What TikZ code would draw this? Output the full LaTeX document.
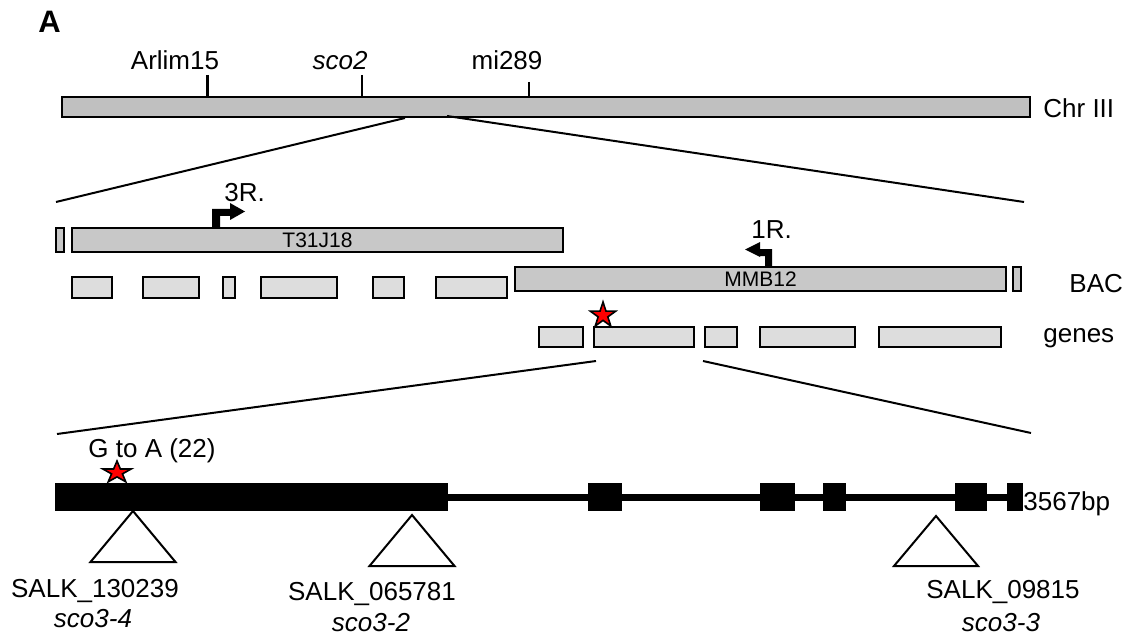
\documentclass[tikz,border=0pt]{standalone}
\usepackage{fontspec}
\setmainfont{Liberation Sans}
\usetikzlibrary{shapes.geometric}
\definecolor{chrgray}{RGB}{192,192,192}
\definecolor{bacgray}{RGB}{200,200,200}
\definecolor{genegray}{RGB}{221,221,221}
\tikzset{
  rbox/.style={draw=black, line width=1pt, inner sep=0pt, outer sep=0pt, anchor=north west},
  chrbox/.style={rbox, fill=chrgray},
  bacbox/.style={rbox, fill=bacgray},
  genebox/.style={rbox, fill=genegray},
  exonbox/.style={fill=black, draw=none, inner sep=0pt, outer sep=0pt, anchor=north west},
  lbl/.style={font=\fontsize{13}{15}\selectfont, inner sep=0pt},
  smalllbl/.style={font=\fontsize{10.5}{12}\selectfont, inner sep=0pt},
  zoomline/.style={line width=1pt},
  mutstar/.style={star, star points=5, star point ratio=2.618, draw=black, fill=red, line width=0.8pt, inner sep=0pt},
  insert/.style={draw=black, line width=1pt, fill=white, line join=miter},
  promoter/.style={fill=black, draw=none}
}
\newcommand\rb[6]{\node[#1, minimum width={(#5-#3)*0.5pt}, minimum height={(#6-#4)*0.5pt}] (#2) at (#3,#4) {};}
\begin{document}
\begin{tikzpicture}[x=0.5pt, y=-0.5pt]
\fill[white] (0,0) rectangle (1128,636);
\useasboundingbox (0,0) rectangle (1128,636);

% panel letter
\node[font=\fontsize{15.5}{17}\selectfont\bfseries, inner sep=0pt, anchor=base west] (lblA) at (38,33) {A};

% chromosome
\rb{chrbox}{chr}{62}{97}{1030}{117}
\node[lbl, anchor=base west] (chrlbl) at (1043,118) {Chr III};
\coordinate (tk1) at (207,75);
\coordinate (tk2) at (362,75);
\coordinate (tk3) at (529,82);
\draw[line width=1.5pt] (tk1) -- (207,97);
\draw[line width=0.8pt] (tk2) -- (362,97);
\draw[line width=1pt] (tk3) -- (529,97);
\node[lbl, anchor=base] (m1) at (175,70) {Arlim15};
\node[lbl, anchor=base] (m2) at (340,70) {\itshape sco2};
\node[lbl, anchor=base] (m3) at (507,70) {mi289};

% zoom lines 1
\coordinate (z1a) at (405,118);
\coordinate (z1b) at (56,202);
\coordinate (z2a) at (447,116);
\coordinate (z2b) at (1024,202);
\draw[zoomline] (z1a) -- (z1b);
\draw[zoomline] (z2a) -- (z2b);

% BAC row
\rb{bacbox}{b0}{56}{228}{64}{252}
\rb{bacbox}{t31}{72}{228}{563}{252}
\node[smalllbl] (t31lbl) at (t31.center) {T31J18};
\rb{bacbox}{mmb}{515}{267}{1006}{291}
\node[smalllbl] (mmblbl) at (mmb.center) {MMB12};
\rb{bacbox}{b9}{1013}{267}{1021}{291}
\node[lbl, anchor=base west] (baclbl) at (1069,292) {BAC};

% promoter arrows
\fill[promoter] (212,228) -- (212,209) -- (230,209) -- (230,203) -- (245,211.5) -- (230,220) -- (230,216) -- (220,216) -- (220,228) -- cycle;
\node[lbl, anchor=base west] (r3) at (224,202) {3R.};
\fill[promoter] (772,267) -- (772,249) -- (760,249) -- (760,242) -- (745,249.5) -- (760,257) -- (760,256) -- (765,256) -- (765,267) -- cycle;
\node[lbl, anchor=base west] (r1) at (751,238) {1R.};

% second row boxes
\rb{genebox}{a1}{72}{277}{112}{298}
\rb{genebox}{a2}{143}{277}{199}{298}
\rb{genebox}{a3}{223}{277}{235}{298}
\rb{genebox}{a4}{261}{277}{337}{298}
\rb{genebox}{a5}{373}{277}{404}{298}
\rb{genebox}{a6}{436}{277}{507}{298}

% genes row
\rb{genebox}{g1}{539}{327}{583}{347}
\rb{genebox}{g2}{594}{327}{694}{347}
\rb{genebox}{g3}{705}{327}{737}{347}
\rb{genebox}{g4}{760}{327}{855}{347}
\rb{genebox}{g5}{879}{327}{1001}{347}
\node[lbl, anchor=base west] (geneslbl) at (1043,342) {genes};
\node[mutstar, minimum size=13.3pt] (st1) at (603,315.3) {};

% zoom lines 2
\coordinate (z3a) at (596,361);
\coordinate (z3b) at (57,434);
\coordinate (z4a) at (703,361);
\coordinate (z4b) at (1031,433);
\draw[zoomline] (z3a) -- (z3b);
\draw[zoomline] (z4a) -- (z4b);

% gene structure
\rb{exonbox}{cds}{55}{483}{448}{511}
\rb{exonbox}{e1}{588}{483}{622}{511}
\rb{exonbox}{e2}{760}{483}{795}{511}
\rb{exonbox}{e3}{823}{483}{846}{511}
\rb{exonbox}{e4}{955}{483}{987}{511}
\rb{exonbox}{e5}{1007}{483}{1023}{511}
\draw[line width=3.5pt] (cds.east) -- (e5.west);
\node[lbl, anchor=base west] (bp) at (1023,510) {3567bp};
\node[lbl, anchor=base] (gta) at (152,457) {G to A (22)};
\node[mutstar, minimum size=11.5pt, xscale=1.3, transform shape] (st2) at (117,472.5) {};

% T-DNA insertions
\coordinate (i1) at (133,511);
\coordinate (i2) at (412,515);
\coordinate (i3) at (936,516);
\draw[insert] (i1) -- ++(42.5,51) -- ++(-85,0) -- cycle;
\draw[insert] (i2) -- ++(42.5,51) -- ++(-85,0) -- cycle;
\draw[insert] (i3) -- ++(42,50) -- ++(-84,0) -- cycle;
\node[lbl, anchor=base] (s1) at (95,597) {SALK\_130239};
\node[lbl, anchor=base] (s1b) at (93,627) {\itshape sco3-4};
\node[lbl, anchor=base] (s2) at (372,600) {SALK\_065781};
\node[lbl, anchor=base] (s2b) at (371,631) {\itshape sco3-2};
\node[lbl, anchor=base] (s3) at (1003,598) {SALK\_09815};
\node[lbl, anchor=base] (s3b) at (1001,631) {\itshape sco3-3};
\end{tikzpicture}
\end{document}
